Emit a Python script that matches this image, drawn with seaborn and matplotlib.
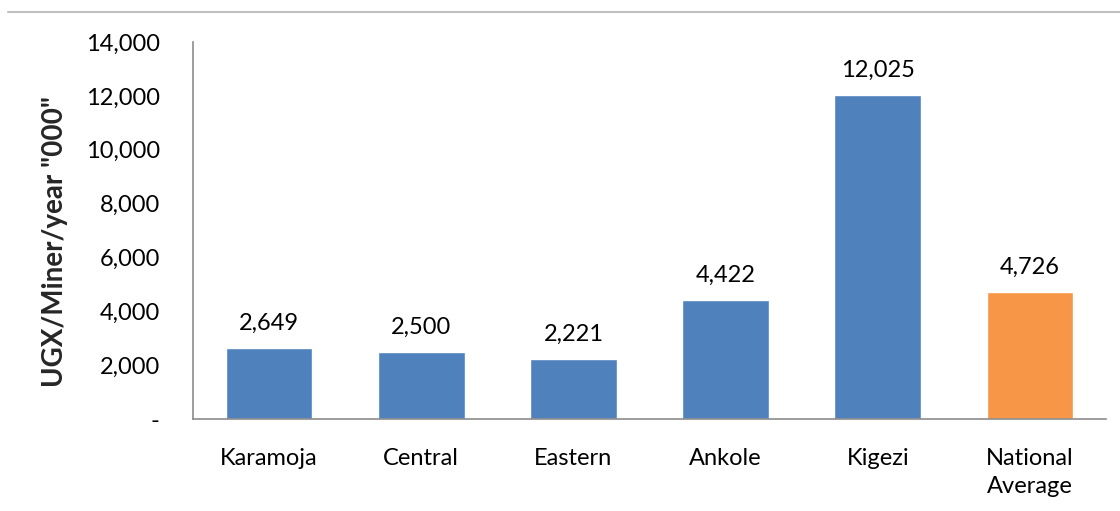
import matplotlib
matplotlib.use("Agg")
import matplotlib.pyplot as plt
import seaborn as sns
import pandas as pd
from matplotlib.lines import Line2D
from matplotlib.ticker import FuncFormatter

categories = ["Karamoja", "Central", "Eastern", "Ankole", "Kigezi", "National\nAverage"]
values = [2649, 2500, 2221, 4422, 12025, 4726]
bar_colors = ["#4F81BD", "#4F81BD", "#4F81BD", "#4F81BD", "#4F81BD", "#F79646"]
y_ticks = [0, 2000, 4000, 6000, 8000, 10000, 12000, 14000]
y_label = 'UGX/Miner/year "000"'

sns.set_theme(style="white")
plt.rcParams["font.family"] = ["Lato", "DejaVu Sans"]

df = pd.DataFrame({"cat": categories, "val": values})

fig = plt.figure(figsize=(11.2, 5.11), dpi=100)
ax = fig.add_axes([193/1120, 1 - 419/511, (1106-193)/1120, (419-42)/511])

sns.barplot(data=df, x="cat", y="val", hue="cat", palette=bar_colors,
            width=0.57, legend=False, ax=ax, saturation=1)

ax.set_ylim(0, 14000)
ax.set_yticks(y_ticks)
ax.yaxis.set_major_formatter(FuncFormatter(lambda v, p: "-" if v == 0 else f"{int(v):,}"))
ax.tick_params(axis="both", length=0, labelsize=17, colors="#000000")
ax.tick_params(axis="y", pad=24)
ax.tick_params(axis="x", pad=21)
for lbl in ax.get_xticklabels():
    lbl.set_linespacing(1.4)
ax.set_xlabel("")
ax.set_ylabel(y_label, fontsize=20, fontweight="bold", va="center")
ax.yaxis.set_label_coords(-0.151, 0.471)

for s in ["top", "right"]:
    ax.spines[s].set_visible(False)
for s in ["left", "bottom"]:
    ax.spines[s].set_color("#8c8c8c")
    ax.spines[s].set_linewidth(1.2)

for i, v in enumerate(values):
    ax.annotate(f"{v:,}", (i, v), xytext=(0, 10), textcoords="offset points",
                ha="center", va="bottom", fontsize=17, color="#000000")

fig.add_artist(Line2D([8/1120, 1.0], [1 - 12.5/511, 1 - 12.5/511],
                      transform=fig.transFigure, color="#c0c0c0", linewidth=1.5))

fig.savefig("out.png", dpi=100)
